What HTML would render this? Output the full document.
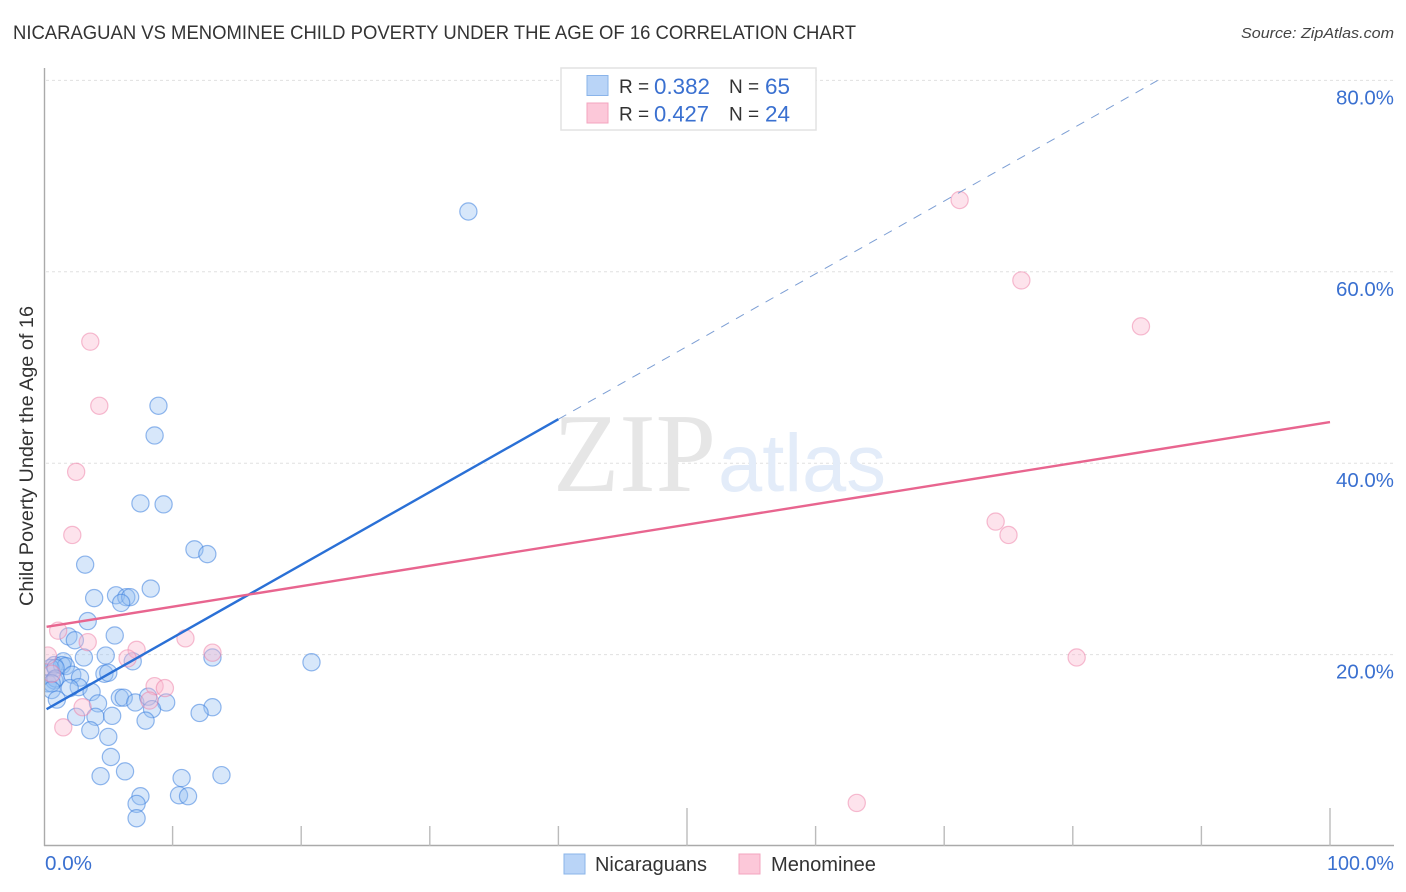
<!DOCTYPE html>
<html lang="en">
<head>
<meta charset="utf-8">
<title>Nicaraguan vs Menominee Child Poverty Correlation Chart</title>
<style>
html,body{margin:0;padding:0;background:#fff;}
svg{display:block;font-family:"Liberation Sans",sans-serif;}
</style>
</head>
<body>
<svg id="chart" width="1406" height="892" viewBox="0 0 1406 892" xmlns="http://www.w3.org/2000/svg">
  <defs>
    <clipPath id="plot-clip"><rect x="45" y="60" width="1349" height="786"/></clipPath>
  </defs>
  <rect x="0" y="0" width="1406" height="892" fill="#ffffff"/>
  <text x="13" y="39" font-size="19" fill="#333333" textLength="843" lengthAdjust="spacingAndGlyphs">NICARAGUAN VS MENOMINEE CHILD POVERTY UNDER THE AGE OF 16 CORRELATION CHART</text>
  <text x="1394" y="38" font-size="15" font-style="italic" fill="#444444" text-anchor="end" textLength="153" lengthAdjust="spacingAndGlyphs">Source: ZipAtlas.com</text>
  <g id="grid"></g>
  <g>
    <text x="553" y="491" font-family="'Liberation Serif',serif" font-size="112" fill="#e6e6e6" textLength="163" lengthAdjust="spacingAndGlyphs">ZIP</text>
    <text x="718" y="491" font-size="82" fill="#e3ecf9" textLength="168" lengthAdjust="spacingAndGlyphs">atlas</text>
  </g>
  <g id="points-blue" clip-path="url(#plot-clip)"></g>
  <g id="points-pink" clip-path="url(#plot-clip)"></g>
  <g id="lines"></g>
  <g id="axes"></g>
  <text transform="translate(33,456) rotate(-90)" font-size="19" fill="#333333" text-anchor="middle" textLength="300" lengthAdjust="spacingAndGlyphs">Child Poverty Under the Age of 16</text>
  <g>
    <rect x="561" y="68" width="255" height="62" fill="#ffffff" stroke="#e2e2e2" stroke-width="1.5"/>
    <rect x="587" y="75.500" width="21" height="20" fill="#b9d4f7" stroke="#8ab4ea" stroke-width="1"/>
    <rect x="587" y="103" width="21" height="20" fill="#fcc8d9" stroke="#f3a5bf" stroke-width="1"/>
    <text x="619" y="93" font-size="19" fill="#333333">R =</text>
    <text x="654" y="94" font-size="22" fill="#3a70d0" textLength="56" lengthAdjust="spacingAndGlyphs">0.382</text>
    <text x="729" y="93" font-size="19" fill="#333333">N =</text>
    <text x="765" y="94" font-size="22" fill="#3a70d0" textLength="25" lengthAdjust="spacingAndGlyphs">65</text>
    <text x="619" y="120.500" font-size="19" fill="#333333">R =</text>
    <text x="654" y="121.500" font-size="22" fill="#3a70d0" textLength="55" lengthAdjust="spacingAndGlyphs">0.427</text>
    <text x="729" y="120.500" font-size="19" fill="#333333">N =</text>
    <text x="765" y="121.500" font-size="22" fill="#3a70d0" textLength="25" lengthAdjust="spacingAndGlyphs">24</text>
  </g>
  <g>
    <rect x="564" y="854" width="21" height="20" fill="#b9d4f7" stroke="#8ab4ea" stroke-width="1"/>
    <text x="595" y="871" font-size="20" fill="#333333" textLength="112" lengthAdjust="spacingAndGlyphs">Nicaraguans</text>
    <rect x="739" y="854" width="21" height="20" fill="#fcc8d9" stroke="#f3a5bf" stroke-width="1"/>
    <text x="771" y="871" font-size="20" fill="#333333" textLength="105" lengthAdjust="spacingAndGlyphs">Menominee</text>
  </g>
</svg>
<script>
// Values in percent
const yTickValues = [20, 40, 60, 80];
const yTickLabels = ['20.0%', '40.0%', '60.0%', '80.0%'];
const xTickValues = [10, 20, 30, 40, 50, 60, 70, 80, 90, 100];
const xEndLabels = ['0.0%', '100.0%'];

const nicaraguansX = [33, 8.9, 8.6, 7.5, 9.3, 11.7, 12.7, 3.2, 8.3, 5.6, 3.9, 6.4, 6.7, 6, 3.4, 5.5, 1.9, 2.4, 3.1, 4.8, 13.1, 20.8, 1.5, 0.8, 1.4, 1.7, 4.7, 5, 6.9, 0.5, 0.9, 2.2, 2.8, 0.3, 0.8, 0.9, 0.6, 2.7, 2, 3.7, 0.6, 1, 5.9, 6.2, 4.2, 7.1, 8.1, 9.5, 8.4, 13.1, 12.1, 2.5, 4, 5.3, 7.9, 3.6, 5, 5.2, 6.3, 4.4, 10.7, 13.8, 7.5, 7.2, 10.5, 11.2, 7.2];
const nicaraguansY = [66.3, 46, 42.9, 35.8, 35.7, 31, 30.5, 29.4, 26.9, 26.2, 25.9, 26, 26, 25.4, 23.5, 22, 21.9, 21.5, 19.7, 19.9, 19.7, 19.2, 19.3, 18.9, 18.9, 18.8, 18, 18.1, 19.3, 18.6, 18.6, 17.9, 17.6, 17, 17.3, 17.5, 17, 16.6, 16.5, 16.1, 16.3, 15.3, 15.5, 15.5, 14.9, 15, 15.6, 15, 14.3, 14.5, 13.9, 13.5, 13.5, 13.6, 13.1, 12.1, 11.4, 9.3, 7.8, 7.3, 7.1, 7.4, 5.2, 4.4, 5.3, 5.2, 2.9];
const menomineeX = [71.2, 76, 85.3, 3.6, 4.3, 2.5, 2.2, 74, 75, 80.3, 63.2, 1.1, 3.4, 11, 7.2, 6.5, 13.1, 0.3, 8.6, 9.4, 8.2, 3, 1.5, 0.6];
const menomineeY = [67.5, 59.1, 54.3, 52.7, 46, 39.1, 32.5, 33.9, 32.5, 19.7, 4.5, 22.5, 21.3, 21.7, 20.5, 19.6, 20.2, 19.9, 16.7, 16.5, 15.2, 14.5, 12.4, 18];

const nicaraguansTrendX = [0.2, 40];
const nicaraguansTrendY = [14.3, 44.6];
const nicaraguansProjectionX = [40, 86.6];
const nicaraguansProjectionY = [44.6, 80];
const menomineeTrendX = [0.2, 100];
const menomineeTrendY = [22.9, 44.3];

const NS = 'http://www.w3.org/2000/svg';
const xScale = v => 44 + v * 12.86;
const yScale = v => 846 - v * 9.57;

function make(parent, tag, attrs, text) {
  const el = document.createElementNS(NS, tag);
  for (const k in attrs) el.setAttribute(k, attrs[k]);
  if (text !== undefined) el.textContent = text;
  parent.appendChild(el);
  return el;
}

const grid = document.getElementById('grid');
yTickValues.forEach(v => {
  const line = make(grid, 'line', {x1: 46, x2: 1394, y1: yScale(v), y2: yScale(v), stroke: '#e0e0e0', 'stroke-width': 1, 'stroke-dasharray': '3 3'});
  
  
});

const axes = document.getElementById('axes');
const yAxisLine = make(axes, 'line', {x1: 44.5, x2: 44.5, y1: 68, y2: 846, stroke: '#aaaaaa', 'stroke-width': 1.4});


const xAxisLine = make(axes, 'line', {x1: 44, x2: 1394, y1: 845.5, y2: 845.5, stroke: '#aaaaaa', 'stroke-width': 1.4});



xTickValues.forEach(v => {
  const top = v % 50 === 0 ? 808 : 826;
  const tick = make(axes, 'line', {x1: xScale(v), x2: xScale(v), y1: top, y2: 846, stroke: '#bbbbbb', 'stroke-width': 1.4});
  
  
});

yTickValues.forEach((v, i) => {
  const label = make(axes, 'text', {x: 1394, y: yScale(v) + 24, 'font-size': 20, fill: '#3a70d0', 'text-anchor': 'end', textLength: 58, lengthAdjust: 'spacingAndGlyphs'}, yTickLabels[i]);
  
  
});

const xStartLabel = make(axes, 'text', {x: 45, y: 870, 'font-size': 20, fill: '#3a70d0', textLength: 47, lengthAdjust: 'spacingAndGlyphs'}, xEndLabels[0]);


const xEndLabel = make(axes, 'text', {x: 1394, y: 870, 'font-size': 20, fill: '#3a70d0', 'text-anchor': 'end', textLength: 67, lengthAdjust: 'spacingAndGlyphs'}, xEndLabels[1]);



const blueGroup = document.getElementById('points-blue');
nicaraguansX.forEach((v, i) => {
  const c = make(blueGroup, 'circle', {cx: xScale(v), cy: yScale(nicaraguansY[i]), r: 8.6, fill: 'rgba(150,192,242,0.38)', stroke: 'rgba(60,128,222,0.55)', 'stroke-width': 1.2});
  
  
});

const pinkGroup = document.getElementById('points-pink');
menomineeX.forEach((v, i) => {
  const c = make(pinkGroup, 'circle', {cx: xScale(v), cy: yScale(menomineeY[i]), r: 8.6, fill: 'rgba(250,185,208,0.4)', stroke: 'rgba(238,125,165,0.5)', 'stroke-width': 1.2});
  
  
});

const lines = document.getElementById('lines');
const blueTrend = make(lines, 'line', {x1: xScale(nicaraguansTrendX[0]), y1: yScale(nicaraguansTrendY[0]), x2: xScale(nicaraguansTrendX[1]), y2: yScale(nicaraguansTrendY[1]), stroke: '#2a70d6', 'stroke-width': 2.4});


const blueProjection = make(lines, 'line', {x1: xScale(nicaraguansProjectionX[0]), y1: yScale(nicaraguansProjectionY[0]), x2: xScale(nicaraguansProjectionX[1]), y2: yScale(nicaraguansProjectionY[1]), stroke: '#7c9ed4', 'stroke-width': 1, 'stroke-dasharray': '9 8'});


const pinkTrend = make(lines, 'line', {x1: xScale(menomineeTrendX[0]), y1: yScale(menomineeTrendY[0]), x2: xScale(menomineeTrendX[1]), y2: yScale(menomineeTrendY[1]), stroke: '#e8658f', 'stroke-width': 2.4});


</script>
</body>
</html>
